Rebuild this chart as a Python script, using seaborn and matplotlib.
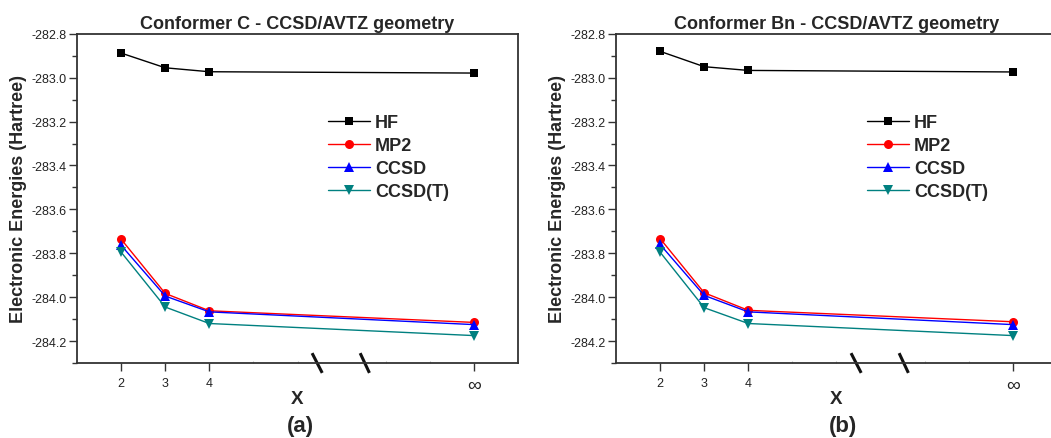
import numpy as np
import pandas as pd
import matplotlib
matplotlib.use("Agg")
import matplotlib.pyplot as plt
import matplotlib.transforms as mtransforms
from matplotlib.ticker import MultipleLocator, FixedLocator, FormatStrFormatter
import seaborn as sns

# ---------------- data ----------------
basis_labels = ["2", "3", "4", "\u221e"]
basis_pos = [2, 3, 4, 10]
methods = ["HF", "MP2", "CCSD", "CCSD(T)"]

hf_c = [-282.888, -282.955, -282.973, -282.979]
mp2_c = [-283.736, -283.983, -284.062, -284.115]
ccsd_c = [-283.764, -283.995, -284.067, -284.125]
ccsdt_c = [-283.795, -284.045, -284.120, -284.175]

hf_b = [-282.880, -282.950, -282.967, -282.974]
mp2_b = [-283.733, -283.980, -284.060, -284.112]
ccsd_b = [-283.760, -283.992, -284.067, -284.125]
ccsdt_b = [-283.795, -284.048, -284.120, -284.175]

titles = ["Conformer C - CCSD/AVTZ geometry", "Conformer Bn - CCSD/AVTZ geometry"]
panel_tags = ["(a)", "(b)"]
y_label = "Electronic Energies (Hartree)"
x_label = "X"

# ---------------- style ----------------
sns.set_theme(style="ticks")
plt.rcParams["font.family"] = ["Liberation Sans", "DejaVu Sans"]

palette = {"HF": "#000000", "MP2": "#ff0000", "CCSD": "#0000ff", "CCSD(T)": "#008080"}
marker_map = {"HF": "s", "MP2": "o", "CCSD": "^", "CCSD(T)": "v"}


def make_df(hf, mp2, ccsd, ccsdt):
    frames = []
    for m, vals in zip(methods, [hf, mp2, ccsd, ccsdt]):
        frames.append(pd.DataFrame({"pos": basis_pos, "energy": vals, "method": m}))
    return pd.concat(frames, ignore_index=True)


dfs = [make_df(hf_c, mp2_c, ccsd_c, ccsdt_c), make_df(hf_b, mp2_b, ccsd_b, ccsdt_b)]

fig = plt.figure(figsize=(10.51, 4.39), dpi=100)
positions = [[0.0733, 0.1708, 0.4196, 0.750], [0.5861, 0.1708, 0.4196, 0.750]]
break_x = [(6.33, 6.56), (7.42, 7.63)]
tag_x = [0.2854, 0.802]

for i in range(2):
    ax = fig.add_axes(positions[i])
    sns.lineplot(
        data=dfs[i], x="pos", y="energy", hue="method", style="method",
        hue_order=methods, style_order=methods, palette=palette,
        markers=marker_map, dashes=False, sort=False, ax=ax,
        linewidth=1.0, markersize=6.5, markeredgewidth=0,
    )
    for line in ax.lines:
        if line.get_marker() == "s":
            line.set_markersize(5.4)

    ax.set_xlim(1, 11)
    ax.set_ylim(-284.3, -282.8)
    ax.set_xticks(basis_pos)
    ax.set_xticklabels(basis_labels)
    for lbl in ax.get_xticklabels():
        if lbl.get_text() == "\u221e":
            lbl.set_fontsize(14)
        else:
            lbl.set_fontsize(9)
    ax.xaxis.set_minor_locator(FixedLocator([5, 6, 8, 9]))
    ax.yaxis.set_major_locator(MultipleLocator(0.2))
    ax.yaxis.set_minor_locator(MultipleLocator(0.1))
    ax.yaxis.set_major_formatter(FormatStrFormatter("%.1f"))

    ax.tick_params(axis="both", which="major", direction="out", length=6, width=1.0,
                   color="#333333", labelcolor="#222222")
    ax.tick_params(axis="y", which="major", labelsize=9, pad=1.5)
    ax.tick_params(axis="x", which="major", pad=4)
    ax.tick_params(axis="y", which="minor", direction="out", length=3.5, width=1.0,
                   color="#333333")
    ax.tick_params(axis="x", which="minor", direction="in", length=1.5, width=0.8,
                   color="#bbbbbb")

    for sp in ax.spines.values():
        sp.set_visible(True)
        sp.set_color("#333333")
        sp.set_linewidth(1.3)

    ax.set_title(titles[i], fontsize=13, fontweight="bold", pad=4)
    ax.set_xlabel(x_label, fontsize=13.5, fontweight="bold", labelpad=-3)
    ax.set_ylabel(y_label, fontsize=13, fontweight="bold", labelpad=3)

    # axis break marks
    trans = mtransforms.blended_transform_factory(ax.transData, ax.transAxes)
    for x0, x1 in break_x:
        ax.plot([x0, x1], [0.03, -0.03], transform=trans, color="#111111",
                lw=2.2, clip_on=False, solid_capstyle="butt")

    handles, labels = ax.get_legend_handles_labels()
    ax.legend(handles, labels, loc="upper left", bbox_to_anchor=(0.569, 0.755),
              frameon=False, borderpad=0, borderaxespad=0, handlelength=2.32,
              handletextpad=0.28, labelspacing=0.33,
              prop={"weight": "bold", "size": 13, "family": ["Liberation Sans", "DejaVu Sans"]})

    fig.text(tag_x[i], 0.028, panel_tags[i], ha="center", va="center",
             fontsize=16, fontweight="bold")

fig.savefig("out.png", dpi=100)
